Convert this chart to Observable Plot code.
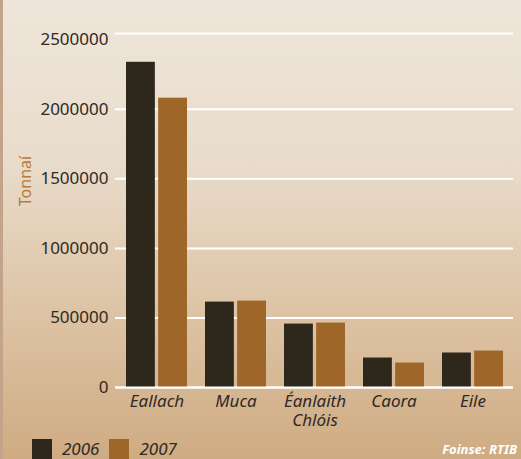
<!DOCTYPE html>
<html>
<head>
<meta charset="utf-8">
<script src="https://cdn.jsdelivr.net/npm/d3@7"></script>
<script src="https://cdn.jsdelivr.net/npm/@observablehq/plot@0.6"></script>
<style>
  html, body { margin: 0; padding: 0; }
  body {
    width: 521px; height: 459px; overflow: hidden; position: relative;
    background: linear-gradient(to bottom, #eee6da 0%, #e9dccb 35%, #dcc2a3 70%, #cfab82 100%);
    font-family: "Noto Sans", sans-serif;
  }
  #strip { position: absolute; left: 0; top: 0; width: 3px; height: 459px; background: #c3a48b; }
  #chart { position: absolute; left: 0; top: 0; }
  #ylabel { position: absolute; left: 25px; top: 181px; transform: translate(-50%, -50%) rotate(-90deg); color: #b57b3a; font-size: 16px; line-height: 1; white-space: nowrap; }
  #legend { position: absolute; left: 32px; top: 439px; display: flex; align-items: center; font-style: italic; font-size: 17px; color: #2e2a24; }
  .sw { width: 20px; height: 20px; display: inline-block; }
  .lab { margin-left: 10px; margin-right: 10px; line-height: 20px; }
  #source { position: absolute; right: 4px; top: 443px; line-height: 1; color: #fff; font-weight: bold; font-style: italic; font-size: 13px; }
</style>
</head>
<body>
<div id="strip"></div>
<div id="chart"></div>
<div id="ylabel"></div>
<div id="legend"></div>
<div id="source">Foinse: RTIB</div>
<script>
const categories = ["Eallach", "Muca", "Éanlaith Chlóis", "Caora", "Eile"];
const categoryLabels = ["Eallach", "Muca", "Éanlaith\nChlóis", "Caora", "Eile"];
const years = ["2006", "2007"];
const values2006 = [2338000, 614000, 456000, 212000, 248000];
const values2007 = [2080000, 621000, 463000, 176000, 262000];
const yTicks = [0, 500000, 1000000, 1500000, 2000000, 2500000];
const gridTicks = [0, 500000, 1000000, 1500000, 2000000];
const yMax = 2545000;
const colors = ["#2e271c", "#9e6629"];
const yLabel = "Tonnaí";

const d2006 = categories.map((c, i) => ({cat: c, v: values2006[i]}));
const d2007 = categories.map((c, i) => ({cat: c, v: values2007[i]}));

const W = 521, H = 432;
const mL = 115, mR = 8;
const bandW = (W - mL - mR) / categories.length * 0.77;
const half = bandW / 2 + 1.5;

const chart = Plot.plot({
  width: W, height: H,
  marginTop: 33, marginBottom: 45, marginLeft: mL, marginRight: mR,
  style: {background: "transparent", fontFamily: "Noto Sans, sans-serif", color: "#2e2a24"},
  x: {type: "band", domain: categories, paddingInner: 0.23, paddingOuter: 0.115, axis: null},
  y: {domain: [0, yMax], axis: null},
  marks: [
    Plot.ruleY(gridTicks, {stroke: "#ffffff", strokeWidth: 2}),
    Plot.ruleY([yMax], {stroke: "#ffffff", strokeWidth: 2}),
    Plot.barY(d2006, {x: "cat", y: "v", fill: colors[0], insetRight: half}),
    Plot.barY(d2007, {x: "cat", y: "v", fill: colors[1], insetLeft: half}),
    Plot.ruleY([0], {stroke: "#ffffff", strokeWidth: 2}),
    Plot.axisY(yTicks, {tickSize: 0, tickPadding: 7, fontSize: 17, tickFormat: d => String(d), fill: "#2e2a24", label: null}),
    Plot.text(categories, {x: d => d, text: (d, i) => categoryLabels[i], frameAnchor: "bottom", lineAnchor: "top", dy: 6, lineHeight: 1.12, fontSize: 17, fontStyle: "italic", fill: "#2e2a24"})
  ]
});
document.getElementById("chart").appendChild(chart);
document.getElementById("ylabel").textContent = yLabel;

const legend = document.getElementById("legend");
years.forEach((y, i) => {
  const s = document.createElement("span"); s.className = "sw"; s.style.background = colors[i];
  const t = document.createElement("span"); t.className = "lab"; t.textContent = y;
  legend.appendChild(s); legend.appendChild(t);
});
</script>
</body>
</html>
